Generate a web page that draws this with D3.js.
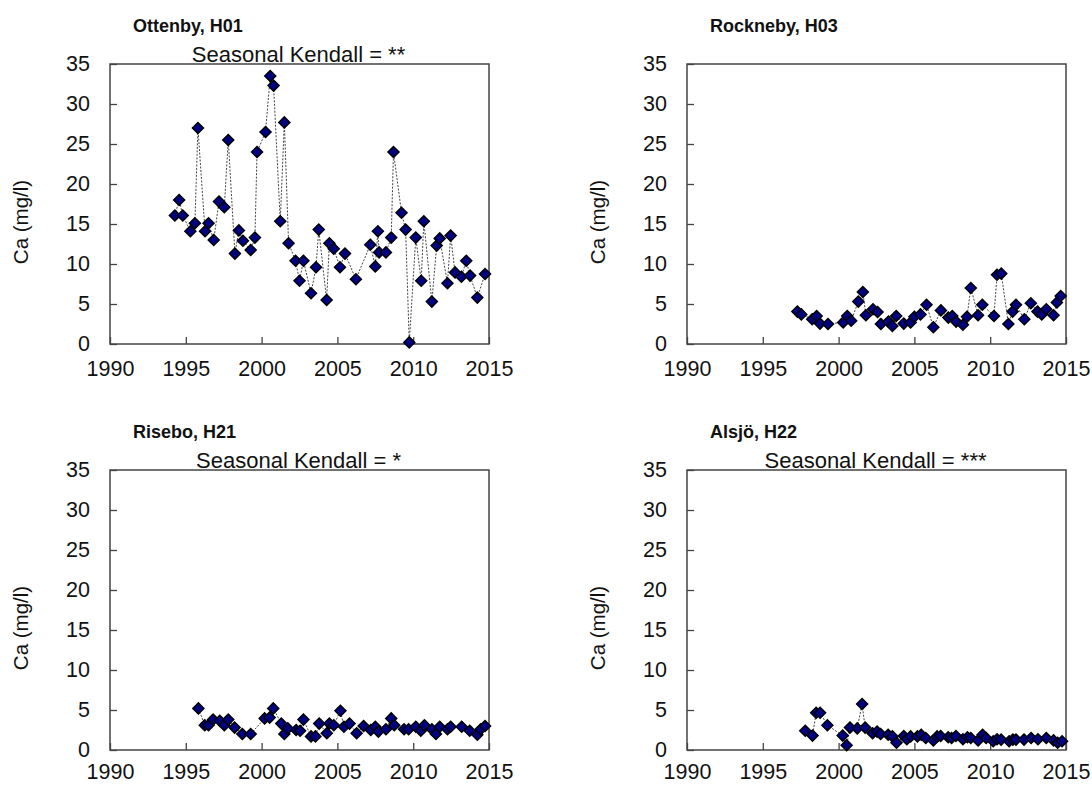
<!DOCTYPE html>
<html>
<head>
<meta charset="utf-8">
<script src="https://cdn.jsdelivr.net/npm/d3@7"></script>
<style>
  body { margin: 0; background: #fff; }
  svg { font-family: "Liberation Sans", Arial, sans-serif; }
</style>
</head>
<body>
<script>
// Ca (mg/l) per station
const ottenbyYear = [1994.28,1994.56,1994.8,1995.3,1995.6,1995.8,1996.27,1996.5,1996.84,1997.19,1997.54,1997.8,1998.24,1998.5,1998.77,1999.28,1999.56,1999.7,2000.26,2000.57,2000.79,2001.23,2001.5,2001.78,2002.24,2002.5,2002.76,2003.26,2003.59,2003.77,2004.29,2004.47,2004.76,2005.17,2005.5,2006.22,2007.17,2007.5,2007.67,2007.75,2008.2,2008.55,2008.7,2009.23,2009.5,2009.74,2010.17,2010.53,2010.7,2011.23,2011.55,2011.75,2012.26,2012.47,2012.76,2013.18,2013.5,2013.75,2014.23,2014.74];
const ottenbyCa = [16.06,18.0,16.06,14.1,15.1,27.0,14.1,15.1,13.0,17.8,17.1,25.5,11.3,14.2,12.9,11.75,13.3,24.0,26.5,33.5,32.3,15.35,27.7,12.6,10.4,7.9,10.4,6.35,9.6,14.3,5.5,12.6,11.9,9.6,11.3,8.1,12.4,9.7,14.1,11.45,11.45,13.3,24.0,16.4,14.3,0.2,13.3,7.9,15.35,5.3,12.3,13.2,7.6,13.55,8.95,8.4,10.4,8.55,5.8,8.75];

const rocknebyYear = [1997.28,1997.54,1998.26,1998.55,1998.77,1999.3,2000.3,2000.57,2000.83,2001.3,2001.6,2001.8,2002.27,2002.57,2002.79,2003.29,2003.55,2003.8,2004.3,2004.75,2005.0,2005.4,2005.8,2006.25,2006.75,2007.24,2007.5,2007.75,2008.2,2008.47,2008.72,2009.2,2009.48,2010.25,2010.45,2010.73,2011.2,2011.48,2011.7,2012.25,2012.68,2013.12,2013.4,2013.7,2014.18,2014.4,2014.65];
const rocknebyCa = [4.05,3.7,3.1,3.5,2.55,2.5,2.7,3.5,2.9,5.3,6.5,3.6,4.35,4.0,2.5,2.8,2.25,3.5,2.55,2.7,3.4,3.7,4.9,2.1,4.2,3.3,3.5,2.8,2.4,3.4,7.0,3.6,4.9,3.5,8.65,8.8,2.5,4.05,4.9,3.1,5.1,4.05,3.7,4.35,3.6,5.2,6.0];

const riseboYear = [1995.83,1996.25,1996.5,1996.8,1997.24,1997.54,1997.8,1998.22,1998.73,1999.28,2000.2,2000.53,2000.77,2001.3,2001.5,2001.73,2002.28,2002.54,2002.76,2003.26,2003.55,2003.8,2004.3,2004.47,2004.76,2005.2,2005.43,2005.8,2006.27,2006.73,2007.2,2007.5,2007.7,2008.2,2008.55,2008.75,2009.4,2009.7,2010.17,2010.5,2010.74,2011.23,2011.5,2011.75,2012.26,2012.47,2013.2,2013.73,2014.23,2014.45,2014.74];
const riseboCa = [5.2,3.1,3.1,3.8,3.65,3.1,3.8,2.8,2.0,2.0,3.95,4.05,5.2,3.3,2.0,2.7,2.5,2.4,3.8,1.7,1.7,3.3,2.1,3.3,3.1,4.9,2.9,3.3,2.1,3.0,2.5,2.9,2.3,2.6,3.95,3.1,2.6,2.6,2.9,2.4,3.1,2.6,2.0,2.9,2.6,2.9,2.9,2.4,1.9,2.6,3.0];

const alsjoYear = [1997.8,1998.28,1998.52,1998.78,1999.26,2000.27,2000.53,2000.75,2001.23,2001.55,2001.75,2002.24,2002.54,2002.77,2003.27,2003.55,2003.82,2004.3,2004.5,2004.75,2005.2,2005.45,2005.75,2006.25,2006.5,2006.73,2007.23,2007.45,2007.74,2008.2,2008.5,2008.72,2009.2,2009.5,2009.73,2010.2,2010.45,2010.72,2011.25,2011.5,2011.7,2012.23,2012.7,2013.15,2013.7,2014.18,2014.45,2014.74];
const alsjoCa = [2.4,1.8,4.65,4.65,3.1,1.8,0.6,2.8,2.7,5.75,2.8,2.1,2.3,2.0,1.9,1.7,0.9,1.75,1.35,1.7,1.7,1.9,1.5,1.2,1.7,1.75,1.6,1.5,1.75,1.35,1.6,1.5,1.2,1.9,1.5,1.1,1.35,1.3,1.1,1.3,1.3,1.3,1.5,1.35,1.5,1.2,0.9,1.1];

const stationNames = ["Ottenby, H01", "Rockneby, H03", "Risebo, H21", "Alsjö, H22"];
const kendallLabels = ["Seasonal Kendall = **", "", "Seasonal Kendall = *", "Seasonal Kendall = ***"];
const xTicks = [1990, 1995, 2000, 2005, 2010, 2015];
const yTicks = [0, 5, 10, 15, 20, 25, 30, 35];

window.addEventListener("load", drawAll);

function drawAll() {
    const svg = d3.select("body").append("svg")
        .attr("width", 1092).attr("height", 785);

    const w = 379, h = 280;
    const x = d3.scaleLinear().domain([1990, 2015]).range([0, w]);
    const y = d3.scaleLinear().domain([0, 35]).range([h, 0]);

    const series = [
        [ottenbyYear, ottenbyCa],
        [rocknebyYear, rocknebyCa],
        [riseboYear, riseboCa],
        [alsjoYear, alsjoCa]
    ];
    const origins = [[110, 64], [687, 64], [110, 470], [687, 470]];

    series.forEach((s, i) => {
        const pts = s[0].map((yr, j) => [yr, s[1][j]]);
        const g = svg.append("g")
            .attr("transform", "translate(" + origins[i][0] + "," + origins[i][1] + ")");

        // station title and trend label
        g.append("text")
            .attr("x", 23).attr("y", -32)
            .attr("font-size", 18).attr("font-weight", "bold").attr("fill", "#111")
            .text(stationNames[i]);

        g.append("text")
            .attr("x", w / 2 - 1).attr("y", -2)
            .attr("text-anchor", "middle").attr("font-size", 22).attr("fill", "#111")
            .text(kendallLabels[i]);

        // axes with inward ticks; bottom row sits at the page edge, so pull its labels up a bit
        const yAxis = g.append("g")
            .call(d3.axisLeft(y).tickValues(yTicks).tickSizeInner(-7).tickSizeOuter(0).tickPadding(20));
        const xAxis = g.append("g")
            .attr("transform", "translate(0," + h + ")")
            .call(d3.axisBottom(x).tickValues(xTicks).tickFormat(d3.format("d"))
                .tickSizeInner(-7).tickSizeOuter(0).tickPadding(i < 2 ? 17 : 14));

        [yAxis, xAxis].forEach(a => {
            a.select(".domain").remove();
            a.selectAll("line").attr("stroke", "#444").attr("stroke-width", 1.3);
            a.selectAll("text").attr("font-size", 21.5).attr("fill", "#111")
                .attr("font-family", "\"Liberation Sans\", Arial, sans-serif");
        });

        g.append("text")
            .attr("transform", "translate(-82," + (h / 2 + 18) + ") rotate(-90)")
            .attr("text-anchor", "middle").attr("font-size", 20.5).attr("fill", "#111")
            .text("Ca (mg/l)");

        g.append("rect")
            .attr("width", w).attr("height", h)
            .attr("fill", "none").attr("stroke", "#444").attr("stroke-width", 1.5);

        // dotted connecting line
        g.append("path")
            .datum(pts)
            .attr("d", d3.line().x(d => x(d[0])).y(d => y(d[1])))
            .attr("fill", "none").attr("stroke", "#444")
            .attr("stroke-width", 1).attr("stroke-dasharray", "2,1.5");

        // diamond markers
        g.selectAll("path.pt")
            .data(pts).enter()
            .append("path").attr("class", "pt")
            .attr("d", d3.symbol(d3.symbolSquare, 62))
            .attr("transform", d => "translate(" + x(d[0]) + "," + y(d[1]) + ") rotate(45)")
            .attr("fill", "#000080").attr("stroke", "#000").attr("stroke-width", 1.4);
    });
}
</script>
</body>
</html>
